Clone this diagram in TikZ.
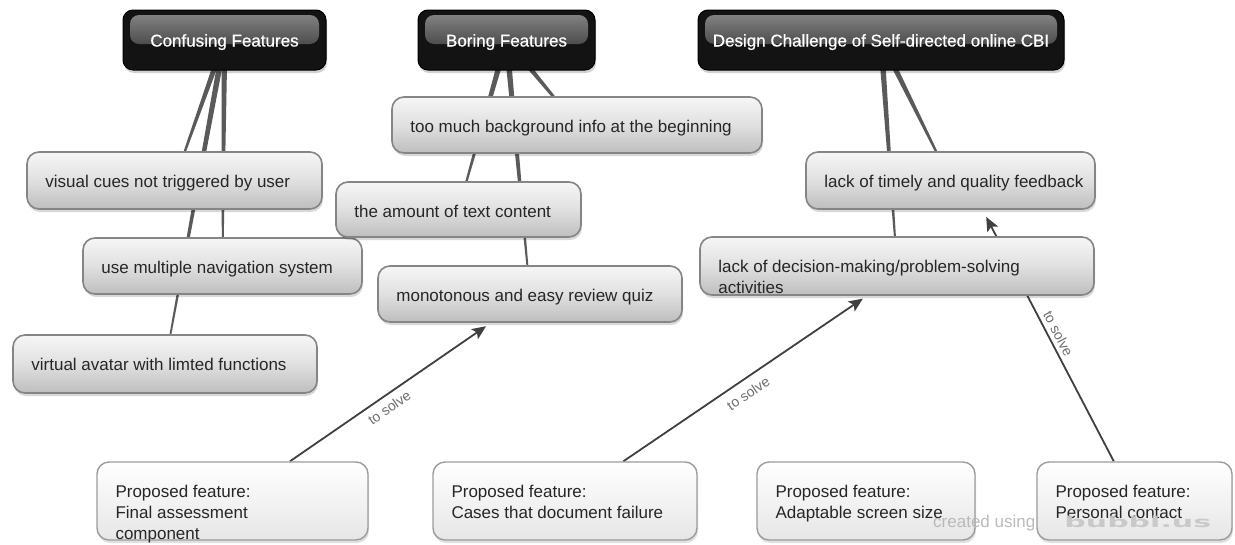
\documentclass[tikz,border=0pt]{standalone}
\usepackage{fontspec}
\setmainfont{Liberation Sans}
\usetikzlibrary{calc,shadows,backgrounds,arrows.meta}
\definecolor{linkc}{HTML}{5A5A5A}
\definecolor{arrc}{HTML}{404040}
\definecolor{boxline}{HTML}{858585}
\definecolor{boxtop}{HTML}{F6F6F6}
\definecolor{boxmid}{HTML}{E0E0E0}
\definecolor{boxbot}{HTML}{BEBEBE}
\definecolor{featline}{HTML}{9C9C9C}
\definecolor{feattop}{HTML}{FFFFFF}
\definecolor{featbot}{HTML}{E6E6E6}
\definecolor{headfill}{HTML}{131313}
\definecolor{headhi}{HTML}{8A8A8A}
\definecolor{headlo}{HTML}{1E1E1E}
\definecolor{lblc}{HTML}{6E6E6E}
\definecolor{wmark}{HTML}{B4B4B4}
\definecolor{wlogo}{HTML}{C6C6C6}
\newcommand{\mlines}[1]{\begin{tabular}[t]{@{}l@{}}#1\end{tabular}}
\tikzset{
  headbox/.style={draw=black, fill=headfill, rounded corners=10pt, line width=1pt,
    drop shadow={shadow xshift=1pt, shadow yshift=-3pt, fill=black, opacity=.18},
    path picture={\shade[top color=headhi, bottom color=headlo, rounded corners=9pt]
      ([xshift=7pt,yshift=-5pt]path picture bounding box.north west) rectangle
      ([xshift=-7pt,yshift=-34pt]path picture bounding box.north east);}},
  graybox/.style={draw=boxline, line width=1.6pt, rounded corners=12pt,
    top color=boxtop, bottom color=boxbot, middle color=boxmid,
    drop shadow={shadow xshift=1pt, shadow yshift=-3pt, fill=black, opacity=.15}},
  featbox/.style={draw=featline, line width=1.4pt, rounded corners=12pt,
    top color=feattop, bottom color=featbot,
    drop shadow={shadow xshift=1pt, shadow yshift=-3pt, fill=black, opacity=.12}},
  htext/.style={text=white, font=\fontsize{17}{21}\selectfont\addfontfeature{FakeBold=0.6}, inner sep=0pt},
  btext/.style={text=black!85, font=\fontsize{17}{21}\selectfont, inner sep=0pt, anchor=base west},
  taper/.style={to path={($(\tikztostart)!3pt!90:(\tikztotarget)$) --
      ($(\tikztostart)!3pt!-90:(\tikztotarget)$) --
      ($(\tikztotarget)!0.7pt!90:(\tikztostart)$) --
      ($(\tikztotarget)!0.7pt!-90:(\tikztostart)$) -- cycle}},
  arr/.style={draw=arrc, line width=1.8pt, -{Stealth[length=14pt,width=12pt,inset=3pt]}},
  lbl/.style={text=lblc, font=\fontsize{14}{16}\selectfont, inner sep=1pt}
}
\begin{document}
\begin{tikzpicture}[x=1pt,y=-1pt]
\useasboundingbox (0,0) rectangle (1235,544);

% headers
\node[headbox, minimum width=203pt, minimum height=60pt] (cf) at (224.5,40) {};
\node[headbox, minimum width=177pt, minimum height=60pt] (bf) at (506.5,40) {};
\node[headbox, minimum width=366pt, minimum height=60pt] (dc) at (881,40) {};
\node[htext, anchor=base] (cft) at ($(cf.north)+(0,37)$) {Confusing Features};
\node[htext, anchor=base] (bft) at ($(bf.north)+(0,37)$) {Boring Features};
\node[htext, anchor=base] (dct) at ($(dc.north)+(0,37)$) {Design Challenge of Self-directed online CBI};

% problem boxes
\node[graybox, minimum width=295pt, minimum height=57pt] (vc) at (174.5,180.5) {};
\node[graybox, minimum width=279pt, minimum height=56pt] (nv) at (222.5,266) {};
\node[graybox, minimum width=304pt, minimum height=58pt] (av) at (165,364) {};
\node[graybox, minimum width=370pt, minimum height=56pt] (bg) at (577,125) {};
\node[graybox, minimum width=245pt, minimum height=55pt] (tc) at (458.5,209.5) {};
\node[graybox, minimum width=304pt, minimum height=56pt] (mq) at (530,294) {};
\node[graybox, minimum width=289pt, minimum height=57pt] (tf) at (950.5,180.5) {};
\node[graybox, minimum width=394pt, minimum height=58pt] (dd) at (897,266) {};

\node[btext] (vct) at ($(vc.north west)+(19,36)$) {visual cues not triggered by user};
\node[btext] (nvt) at ($(nv.north west)+(19,36)$) {use multiple navigation system};
\node[btext] (avt) at ($(av.north west)+(19,36)$) {virtual avatar with limted functions};
\node[btext] (bgt) at ($(bg.north west)+(19,36)$) {too much background info at the beginning};
\node[btext] (tct) at ($(tc.north west)+(19,36)$) {the amount of text content};
\node[btext] (mqt) at ($(mq.north west)+(19,36)$) {monotonous and easy review quiz};
\node[btext] (tft) at ($(tf.north west)+(19,36)$) {lack of timely and quality feedback};
\node[btext] (ddt) at ($(dd.north west)+(19,36)$) {\mlines{lack of decision-making/problem-solving\\activities}};

% proposed features
\node[featbox, minimum width=271pt, minimum height=78pt] (fa) at (232.5,501) {};
\node[featbox, minimum width=264pt, minimum height=78pt] (cd) at (565,501) {};
\node[featbox, minimum width=218pt, minimum height=78pt] (as) at (866,501) {};
\node[featbox, minimum width=195pt, minimum height=78pt] (pc) at (1134.5,501) {};

\node[btext] (fat) at ($(fa.north west)+(19,36)$) {\mlines{Proposed feature:\\Final assessment\\component}};
\node[btext] (cdt) at ($(cd.north west)+(19,36)$) {\mlines{Proposed feature:\\Cases that document failure}};
\node[btext] (ast) at ($(as.north west)+(19,36)$) {\mlines{Proposed feature:\\Adaptable screen size}};
\node[btext] (pct) at ($(pc.north west)+(19,36)$) {\mlines{Proposed feature:\\Personal contact}};

% connectors behind the boxes
\begin{scope}[on background layer]
\fill[white] (0,0) rectangle (1235,544);
\fill[linkc] (cf) to[taper] (vc);
\fill[linkc] (cf) to[taper] (nv);
\fill[linkc] (cf) to[taper] (av);
\fill[linkc] (bf) to[taper] (bg);
\fill[linkc] (bf) to[taper] (tc);
\fill[linkc] (bf) to[taper] (mq);
\fill[linkc] (dc) to[taper] (tf);
\fill[linkc] (dc) to[taper] (dd);
\draw[arr, shorten >=6pt] (fa) -- ([xshift=-39pt]mq.south)
  node[lbl, pos=0.46, below=5pt, sloped] (l1) {to solve};
\draw[arr, shorten >=5pt] (cd) -- ([xshift=-30pt]dd.south)
  node[lbl, pos=0.48, below=7pt, sloped] (l2) {to solve};
\draw[arr, shorten >=8pt] (pc) -- ([xshift=32pt]tf.south)
  node[lbl, pos=0.49, above=3pt, sloped] (l3) {to solve};
\end{scope}

% watermark
\node[text=wmark, font=\fontsize{17}{21}\selectfont, inner sep=0pt, anchor=base west, opacity=.9]
  (wm1) at (933,527) {created using};
\node[text=wlogo, font=\fontsize{15}{18}\fontspec{DejaVu Sans}\bfseries, inner sep=0pt, anchor=base west,
  xscale=2.0, opacity=.9] (wm2) at (1064,527) {bubbl.us};
\end{tikzpicture}
\end{document}
